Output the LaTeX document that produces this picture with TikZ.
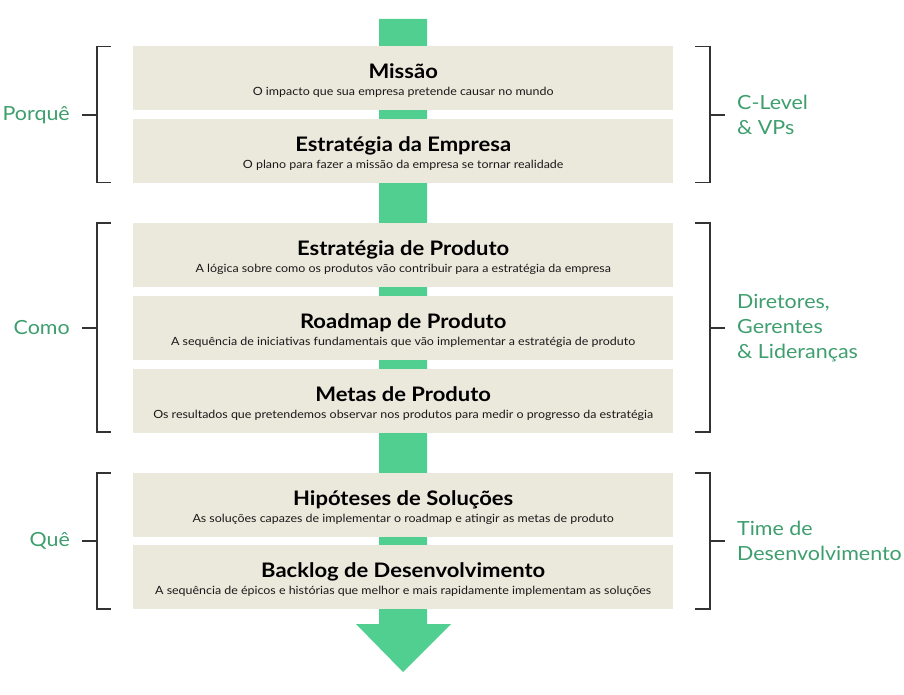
\documentclass[tikz,border=0pt]{standalone}
\usepackage{fontspec}
\setmainfont[FakeStretch=1.1]{Lato}
\definecolor{boxfill}{HTML}{EBE8DC}
\definecolor{arrowgreen}{HTML}{51CF91}
\definecolor{labelgreen}{HTML}{3E9E6E}
\definecolor{bracketgray}{HTML}{333333}
\begin{document}
\begin{tikzpicture}[x=1pt,y=-1pt,
  stage/.style={fill=boxfill, draw=none, minimum width=540pt, minimum height=64pt, inner sep=0pt, anchor=north west},
  ttl/.style={font=\fontsize{20}{22}\selectfont\bfseries, text=black, inner sep=0pt, anchor=base},
  sub/.style={font=\fontsize{11.3}{13}\selectfont, text=black!90, inner sep=0pt, anchor=base},
  grp/.style={font=\fontsize{19.5}{25}\selectfont, text=labelgreen, inner sep=0pt},
  brk/.style={draw=bracketgray, line width=1.6pt}
]
\useasboundingbox (0,0) rectangle (904,695);
% arrow
\fill[arrowgreen] (379,19) -- (427,19) -- (427,624) -- (451,624) -- (403,672) -- (356,624) -- (379,624) -- cycle;
% boxes
\foreach \n/\y/\t/\s in {
  b1/46/{Missão}/{O impacto que sua empresa pretende causar no mundo},
  b2/119/{Estratégia da Empresa}/{O plano para fazer a missão da empresa se tornar realidade},
  b3/223/{Estratégia de Produto}/{A lógica sobre como os produtos vão contribuir para a estratégia da empresa},
  b4/296/{Roadmap de Produto}/{A sequência de iniciativas fundamentais que vão implementar a estratégia de produto},
  b5/369/{Metas de Produto}/{Os resultados que pretendemos observar nos produtos para medir o progresso da estratégia},
  b6/473/{Hipóteses de Soluções}/{As soluções capazes de implementar o roadmap e atingir as metas de produto},
  b7/545/{Backlog de Desenvolvimento}/{A sequência de épicos e histórias que melhor e mais rapidamente implementam as soluções}}
{
  \node[stage] (\n) at (133,\y) {};
  \node[ttl] (\n-t) at ([yshift=-32.7pt]\n.north) {\t};
  \node[sub] (\n-s) at ([yshift=-49.7pt]\n.north) {\s};
}
% brackets
\foreach \top/\bot/\mid in {46.7/182.7/115, 223/432/328, 473/609/541}{
  \draw[brk] (111,\top) -- (97,\top) -- (97,\bot) -- (111,\bot);
  \draw[brk] (82,\mid) -- (97,\mid);
  \draw[brk] (695,\top) -- (710,\top) -- (710,\bot) -- (695,\bot);
  \draw[brk] (710,\mid) -- (725,\mid);
}
% group labels
\node[grp, anchor=east] (l1) at (70,115) {Porquê};
\node[grp, anchor=east] (l2) at (70,328) {Como};
\node[grp, anchor=east] (l3) at (70,541) {Quê};
\node[grp, anchor=west, align=left] (r1) at (737,115) {C-Level\\\& VPs};
\node[grp, anchor=west, align=left] (r2) at (737,328) {Diretores,\\Gerentes\\\& Lideranças};
\node[grp, anchor=west, align=left] (r3) at (737,541) {Time de\\Desenvolvimento};
\end{tikzpicture}
\end{document}
